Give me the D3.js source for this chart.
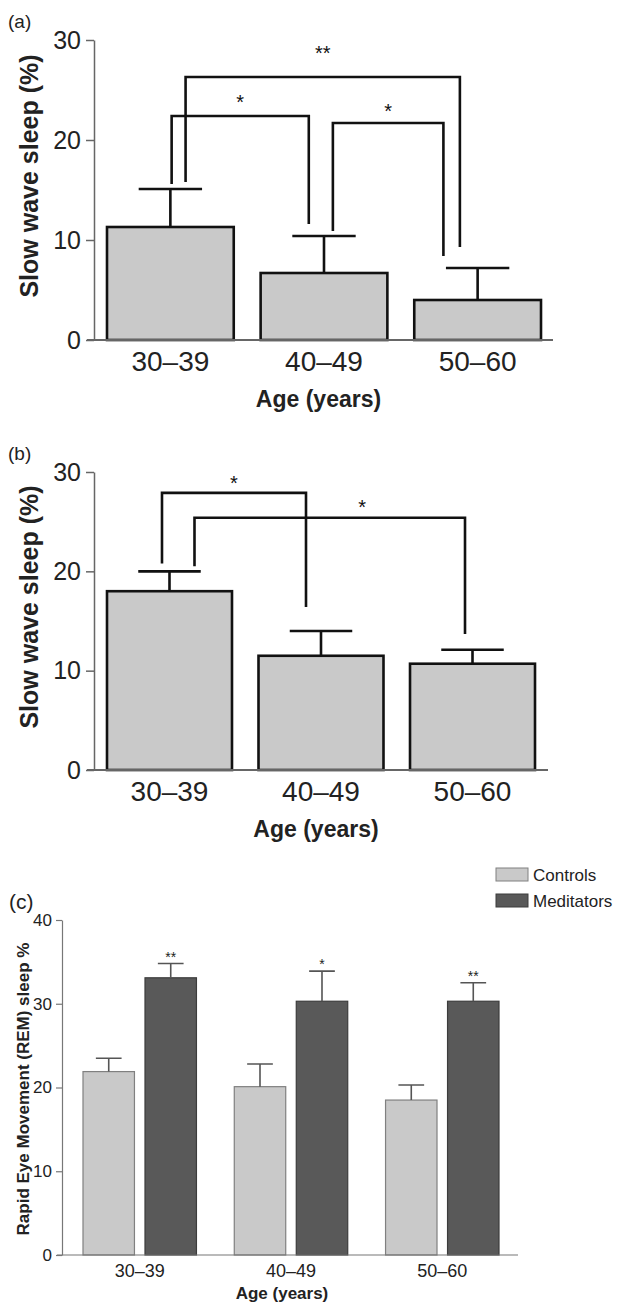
<!DOCTYPE html>
<html>
<head>
<meta charset="utf-8">
<script src="https://cdn.jsdelivr.net/npm/d3@7"></script>
<style>
  body { margin: 0; background: #fff; }
  svg { display: block; font-family: "Liberation Sans", Arial, sans-serif; }
</style>
</head>
<body>
<script>
// three panels: slow wave sleep by age (a, b) and REM sleep by group (c)

const ageGroups = ["30–39", "40–49", "50–60"];
const yTicksSws = [0, 10, 20, 30];
const yTicksRem = [0, 10, 20, 30, 40];

// panel (a)
const swsA = [11.3, 6.7, 4.0];
const semA = [3.8, 3.7, 3.2];
const bracketsA = [
  {from: 0, to: 2, y: 26.3, fromEnd: 15.8, toEnd: 9.3, label: "**", labelY: 29.0},
  {from: 0, to: 1, y: 22.4, fromEnd: 15.6, toEnd: 11.6, label: "*", labelY: 24.1},
  {from: 1, to: 2, y: 21.7, fromEnd: 10.9, toEnd: 8.4, label: "*", labelY: 23.2}
];
const legOffsetsA = [[0.12, -0.14], [0.01, -0.12], [0.07, -0.27]];

// panel (b)
const swsB = [18.0, 11.5, 10.7];
const semB = [2.0, 2.5, 1.4];
const bracketsB = [
  {from: 0, to: 1, y: 27.9, fromEnd: 20.8, toEnd: 16.4, label: "*", labelY: 29.2},
  {from: 0, to: 2, y: 25.4, fromEnd: 20.5, toEnd: 13.7, label: "*", labelY: 26.8}
];
const legOffsetsB = [[-0.06, -0.12], [0.2, -0.06]];
const labelFracB = [0.5, 0.62];

// panel (c)
const groups = ["Controls", "Meditators"];
const remControls = [21.9, 20.1, 18.5];
const semControls = [1.6, 2.7, 1.8];
const remMeditators = [33.1, 30.3, 30.3];
const semMeditators = [1.7, 3.6, 2.2];
const remStars = ["**", "*", "**"];

const svg = d3.select("body").append("svg")
  .attr("width", 617)
  .attr("height", 1303);

function swsPanel(opt) {
  const y = d3.scaleLinear().domain([0, 30]).range([opt.bottom, opt.top]);
  const x = d3.scaleBand().domain(ageGroups).range(opt.xRange).paddingInner(0.175);
  const g = svg.append("g");

  g.append("text").attr("x", 8).attr("y", opt.top - 12)
    .attr("font-size", 19).attr("fill", "#222").text(opt.tag);

  // y axis
  const ya = g.append("g").attr("transform", `translate(${opt.axisX},0)`)
    .call(d3.axisLeft(y).tickValues(yTicksSws).tickSize(8).tickSizeOuter(0).tickPadding(5));
  ya.select(".domain").attr("stroke", "#666").attr("stroke-width", 1.5);
  ya.selectAll(".tick line").attr("stroke", "#666").attr("stroke-width", 1.5);
  ya.selectAll(".tick text").attr("font-size", 25).attr("fill", "#222")
    .attr("font-family", "Liberation Sans, Arial, sans-serif");

  // bars
  const data = ageGroups.map((a, i) => ({age: a, v: opt.values[i], e: opt.sem[i]}));
  g.selectAll("rect.bar").data(data).join("rect")
    .attr("x", d => x(d.age)).attr("width", x.bandwidth())
    .attr("y", d => y(d.v)).attr("height", d => y(0) - y(d.v))
    .attr("fill", "#c9c9c9").attr("stroke", "#111").attr("stroke-width", 2.6);

  // error bars
  g.selectAll("path.err").data(data).join("path")
    .attr("d", d => {
      const cx = x(d.age) + x.bandwidth() / 2, hw = x.bandwidth() / 4;
      return `M${cx},${y(d.v)}V${y(d.v + d.e)}M${cx - hw},${y(d.v + d.e)}H${cx + hw}`;
    })
    .attr("fill", "none").attr("stroke", "#111").attr("stroke-width", 2.6);

  // x baseline
  g.append("line").attr("x1", opt.axisX - 7).attr("x2", opt.xEnd)
    .attr("y1", y(0)).attr("y2", y(0)).attr("stroke", "#666").attr("stroke-width", 2);

  const xa = g.append("g").attr("transform", `translate(0,${y(0)})`)
    .call(d3.axisBottom(x).tickSize(0).tickPadding(11));
  xa.select(".domain").remove();
  xa.selectAll(".tick text").attr("font-size", 28).attr("fill", "#222")
    .attr("font-family", "Liberation Sans, Arial, sans-serif");

  // brackets
  opt.brackets.forEach((b, i) => {
    const bw = x.bandwidth();
    const x1 = x(ageGroups[b.from]) + bw / 2 + opt.legs[i][0] * bw;
    const x2 = x(ageGroups[b.to]) + bw / 2 + opt.legs[i][1] * bw;
    g.append("path")
      .attr("d", `M${x1},${y(b.fromEnd)}V${y(b.y)}H${x2}V${y(b.toEnd)}`)
      .attr("fill", "none").attr("stroke", "#111").attr("stroke-width", 2.6);
    const f = opt.labelFrac ? opt.labelFrac[i] : 0.5;
    g.append("text").attr("x", x1 + (x2 - x1) * f).attr("y", y(b.labelY) + 10)
      .attr("text-anchor", "middle").attr("font-size", 20).attr("fill", "#111")
      .text(b.label);
  });

  // titles
  g.append("text").attr("x", (opt.axisX + opt.xEnd) / 2 - 5).attr("y", opt.bottom + 67)
    .attr("text-anchor", "middle").attr("font-size", 23).attr("font-weight", "bold")
    .attr("fill", "#222").text("Age (years)");
  g.append("text")
    .attr("transform", `translate(38,${opt.titleY}) rotate(-90)`)
    .attr("text-anchor", "middle").attr("font-size", 25).attr("font-weight", "bold")
    .attr("fill", "#222").text("Slow wave sleep (%)");
}

swsPanel({tag: "(a)", top: 40, bottom: 340, axisX: 94, xRange: [107, 541], xEnd: 553,
  values: swsA, sem: semA, brackets: bracketsA, legs: legOffsetsA, titleY: 176});
swsPanel({tag: "(b)", top: 472, bottom: 770, axisX: 94, xRange: [107, 535], xEnd: 548,
  values: swsB, sem: semB, brackets: bracketsB, legs: legOffsetsB, labelFrac: labelFracB, titleY: 607});

// ---- panel (c)
const yc = d3.scaleLinear().domain([0, 40]).range([1255, 920]);
const x0 = d3.scaleBand().domain(ageGroups).range([83, 499]).paddingInner(0.25);
const x1 = d3.scaleBand().domain(groups).range([0, x0.bandwidth()]).paddingInner(0.17);
const fills = {Controls: "#c9c9c9", Meditators: "#595959"};
const strokes = {Controls: "#808080", Meditators: "#3c3c3c"};
const gc = svg.append("g");

gc.append("text").attr("x", 9).attr("y", 909).attr("font-size", 21).attr("fill", "#222").text("(c)");

const yca = gc.append("g").attr("transform", "translate(62,0)")
  .call(d3.axisLeft(yc).tickValues(yTicksRem).tickSize(6).tickSizeOuter(0).tickPadding(4));
yca.select(".domain").attr("stroke", "#777").attr("stroke-width", 1.2);
yca.selectAll(".tick line").attr("stroke", "#777").attr("stroke-width", 1.2);
yca.selectAll(".tick text").attr("font-size", 17).attr("fill", "#222")
  .attr("font-family", "Liberation Sans, Arial, sans-serif");

const remData = [];
ageGroups.forEach((a, i) => {
  remData.push({age: a, grp: "Controls", v: remControls[i], e: semControls[i], star: ""});
  remData.push({age: a, grp: "Meditators", v: remMeditators[i], e: semMeditators[i], star: remStars[i]});
});

gc.selectAll("rect.bar").data(remData).join("rect")
  .attr("x", d => x0(d.age) + x1(d.grp)).attr("width", x1.bandwidth())
  .attr("y", d => yc(d.v)).attr("height", d => yc(0) - yc(d.v))
  .attr("fill", d => fills[d.grp]).attr("stroke", d => strokes[d.grp]).attr("stroke-width", 1.2);

gc.selectAll("path.err").data(remData).join("path")
  .attr("d", d => {
    const cx = x0(d.age) + x1(d.grp) + x1.bandwidth() / 2, hw = x1.bandwidth() / 4;
    return `M${cx},${yc(d.v)}V${yc(d.v + d.e)}M${cx - hw},${yc(d.v + d.e)}H${cx + hw}`;
  })
  .attr("fill", "none").attr("stroke", "#555").attr("stroke-width", 1.6);

gc.selectAll("text.star").data(remData.filter(d => d.star)).join("text")
  .attr("x", d => x0(d.age) + x1(d.grp) + x1.bandwidth() / 2)
  .attr("y", d => yc(d.v + d.e) - 2)
  .attr("text-anchor", "middle").attr("font-size", 14).attr("fill", "#222")
  .text(d => d.star);

gc.append("line").attr("x1", 57).attr("x2", 518).attr("y1", yc(0)).attr("y2", yc(0))
  .attr("stroke", "#777").attr("stroke-width", 1.2);

const xca = gc.append("g").attr("transform", `translate(0,${yc(0)})`)
  .call(d3.axisBottom(x0).tickSize(0).tickPadding(9));
xca.select(".domain").remove();
xca.selectAll(".tick text").attr("font-size", 18).attr("fill", "#222")
  .attr("font-family", "Liberation Sans, Arial, sans-serif");

gc.append("text").attr("x", 282).attr("y", 1299).attr("text-anchor", "middle")
  .attr("font-size", 17).attr("font-weight", "bold").attr("fill", "#222").text("Age (years)");
gc.append("text").attr("transform", "translate(29,1089) rotate(-90)")
  .attr("text-anchor", "middle").attr("font-size", 17).attr("font-weight", "bold")
  .attr("fill", "#222").text("Rapid Eye Movement (REM) sleep %");

// legend
const lg = gc.selectAll("g.leg").data(groups).join("g")
  .attr("transform", (d, i) => `translate(496,${868 + i * 26})`);
lg.append("rect").attr("width", 32).attr("height", 13)
  .attr("fill", d => fills[d]).attr("stroke", d => strokes[d]).attr("stroke-width", 1);
lg.append("text").attr("x", 37).attr("y", 13).attr("font-size", 17).attr("fill", "#222")
  .text(d => d);
</script>
</body>
</html>
